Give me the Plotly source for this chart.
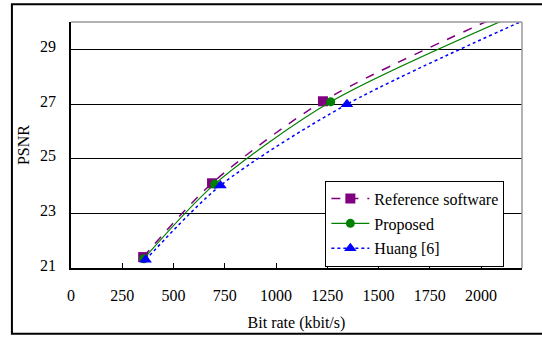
import plotly.graph_objects as go

# Data (bit rate kbit/s, PSNR dB)
# last point of each series is the end of the curve, just beyond the plot area
ref_rate = [352, 688, 1229, 2110]
ref_psnr = [21.40, 24.10, 27.10, 30.30]
prop_rate = [355, 701, 1267, 2175]
prop_psnr = [21.34, 24.07, 27.08, 30.28]
huang_rate = [364, 729, 1346, 2250]
huang_psnr = [21.30, 24.02, 26.99, 30.20]

x_ticks = [0, 250, 500, 750, 1000, 1250, 1500, 1750, 2000]
y_ticks = [21, 23, 25, 27, 29]

FONT = "Liberation Serif, Times New Roman, serif"

fig = go.Figure()
fig.add_trace(go.Scatter(
    x=ref_rate, y=ref_psnr, name="Reference software", mode="lines+markers",
    line=dict(color="#800080", width=1.5, dash="dash", shape="spline", smoothing=0.8),
    marker=dict(symbol="square", size=10, color="#800080"), legendgroup="a"))
fig.add_trace(go.Scatter(
    x=prop_rate, y=prop_psnr, name="Proposed", mode="lines+markers",
    line=dict(color="#008000", width=1.2, shape="spline", smoothing=0.8),
    marker=dict(symbol="circle", size=9, color="#008000"), legendgroup="b"))
fig.add_trace(go.Scatter(
    x=huang_rate, y=huang_psnr, name="Huang [6]", mode="lines+markers",
    line=dict(color="#0000FF", width=1.5, dash="dot", shape="spline", smoothing=0.8),
    marker=dict(symbol="triangle-up", size=11, color="#0000FF"), legendgroup="c"))

fig.update_layout(
    width=542, height=341,
    margin=dict(l=71, r=20, t=22, b=70),
    paper_bgcolor="white", plot_bgcolor="white",
    font=dict(family=FONT, size=16, color="black"),
    legend=dict(
        x=0.564, y=0.355, xanchor="left", yanchor="top",
        bgcolor="white", bordercolor="black", borderwidth=1,
        font=dict(family=FONT, size=16),
        traceorder="grouped", tracegroupgap=1, itemwidth=38,
    ),
    xaxis=dict(
        range=[0, 2200], tickvals=x_ticks, showgrid=False, zeroline=False,
        showline=True, linecolor="black", linewidth=1.5,
        ticks="inside", ticklen=5, tickcolor="black",
        ticklabelstandoff=12, tickfont=dict(size=16),
        title=dict(text="Bit rate (kbit/s)", font=dict(size=16), standoff=14),
    ),
    yaxis=dict(
        range=[21, 30], tickvals=y_ticks, showgrid=True, gridcolor="black",
        gridwidth=1, zeroline=False,
        showline=True, linecolor="black", linewidth=1.5,
        ticks="inside", ticklen=4, tickcolor="black",
        ticklabelstandoff=10, ticklabelshift=-3, tickfont=dict(size=16),
        title=dict(text="PSNR", font=dict(size=16), standoff=6),
    ),
    shapes=[
        dict(type="line", xref="paper", yref="paper", x0=0, x1=1, y0=1, y1=1,
             line=dict(color="#999999", width=1.5)),
        dict(type="line", xref="paper", yref="paper", x0=1, x1=1, y0=0, y1=1,
             line=dict(color="#999999", width=1.5)),
        dict(type="rect", xref="paper", yref="paper", x0=-0.131, x1=1.06,
             y0=-0.267, y1=1.072, line=dict(color="black", width=2)),
    ],
)

fig.write_html("out.html", config={"displayModeBar": False},
               post_script="document.body.style.margin='0';")
